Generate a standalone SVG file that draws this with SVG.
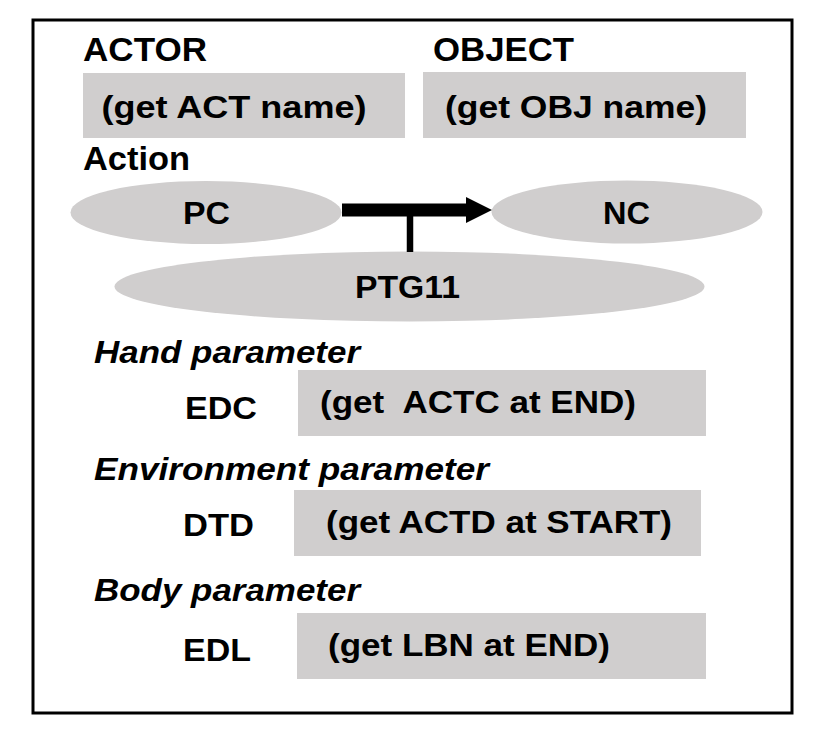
<svg xmlns="http://www.w3.org/2000/svg" width="829" height="743" viewBox="0 0 829 743">
<style>
  .t { font-family: "Liberation Sans", Arial, sans-serif; font-weight: bold; font-size: 31px; fill: #000; white-space: pre; }
  .h { font-size: 32.5px; }
  .i { font-style: italic; }
  .box { fill: #d0cece; }
  .ell { fill: #d0cece; }
</style>
<defs>
  <marker id="head" markerUnits="userSpaceOnUse" markerWidth="27" markerHeight="26" refX="0" refY="13" orient="auto">
    <path d="M0,0 L26,13 L0,26 Z" fill="#000"/>
  </marker>
</defs>
<rect x="0" y="0" width="829" height="743" fill="#fff"/>
<rect id="frame" x="33" y="20" width="759" height="693" fill="none" stroke="#000" stroke-width="3"/>

<g id="actor-label"><text class="t h" x="83" y="60.5" textLength="124" lengthAdjust="spacingAndGlyphs">ACTOR</text></g>
<g id="object-label"><text class="t h" x="433" y="60.5" textLength="141" lengthAdjust="spacingAndGlyphs">OBJECT</text></g>
<g id="actor-box">
  <rect class="box" x="83" y="73" width="322" height="65"/>
  <text class="t" x="101.5" y="117.5" textLength="265" lengthAdjust="spacingAndGlyphs">(get ACT name)</text>
</g>
<g id="object-box">
  <rect class="box" x="423" y="72" width="323" height="66"/>
  <text class="t" x="445" y="117.5" textLength="262" lengthAdjust="spacingAndGlyphs">(get OBJ name)</text>
</g>
<g id="action-label"><text class="t h" x="83" y="169.5" textLength="107" lengthAdjust="spacingAndGlyphs">Action</text></g>

<g id="PC">
  <ellipse class="ell" cx="206" cy="212.5" rx="135.5" ry="31.5"/>
  <text class="t" x="183" y="224" textLength="47" lengthAdjust="spacingAndGlyphs">PC</text>
</g>
<g id="NC">
  <ellipse class="ell" cx="627" cy="212" rx="135.5" ry="31.5"/>
  <text class="t" x="603" y="224" textLength="47" lengthAdjust="spacingAndGlyphs">NC</text>
</g>
<g id="PTG11">
  <ellipse class="ell" cx="409.5" cy="286.5" rx="295" ry="35"/>
  <text class="t" x="355" y="298" textLength="105" lengthAdjust="spacingAndGlyphs">PTG11</text>
</g>

<g id="connectors">
  <line x1="342" y1="210" x2="466" y2="210" stroke="#000" stroke-width="13" marker-end="url(#head)"/>
  <line x1="410" y1="216" x2="410" y2="252" stroke="#000" stroke-width="6.5"/>
</g>

<g id="hand-label"><text class="t i" x="94" y="363" textLength="266" lengthAdjust="spacingAndGlyphs">Hand parameter</text></g>
<g id="EDC">
  <text class="t" x="185" y="419" textLength="72" lengthAdjust="spacingAndGlyphs">EDC</text>
  <rect class="box" x="298" y="370" width="408" height="66"/>
  <text class="t" x="320" y="413" textLength="316" lengthAdjust="spacingAndGlyphs">(get  ACTC at END)</text>
</g>

<g id="env-label"><text class="t i" x="94" y="480" textLength="395" lengthAdjust="spacingAndGlyphs">Environment parameter</text></g>
<g id="DTD">
  <text class="t" x="183" y="536" textLength="71" lengthAdjust="spacingAndGlyphs">DTD</text>
  <rect class="box" x="294" y="490" width="407" height="66"/>
  <text class="t" x="326" y="533" textLength="346" lengthAdjust="spacingAndGlyphs">(get ACTD at START)</text>
</g>

<g id="body-label"><text class="t i" x="94" y="601" textLength="266" lengthAdjust="spacingAndGlyphs">Body parameter</text></g>
<g id="EDL">
  <text class="t" x="183" y="661" textLength="68" lengthAdjust="spacingAndGlyphs">EDL</text>
  <rect class="box" x="297" y="613" width="409" height="66"/>
  <text class="t" x="328" y="656" textLength="282" lengthAdjust="spacingAndGlyphs">(get LBN at END)</text>
</g>
</svg>
